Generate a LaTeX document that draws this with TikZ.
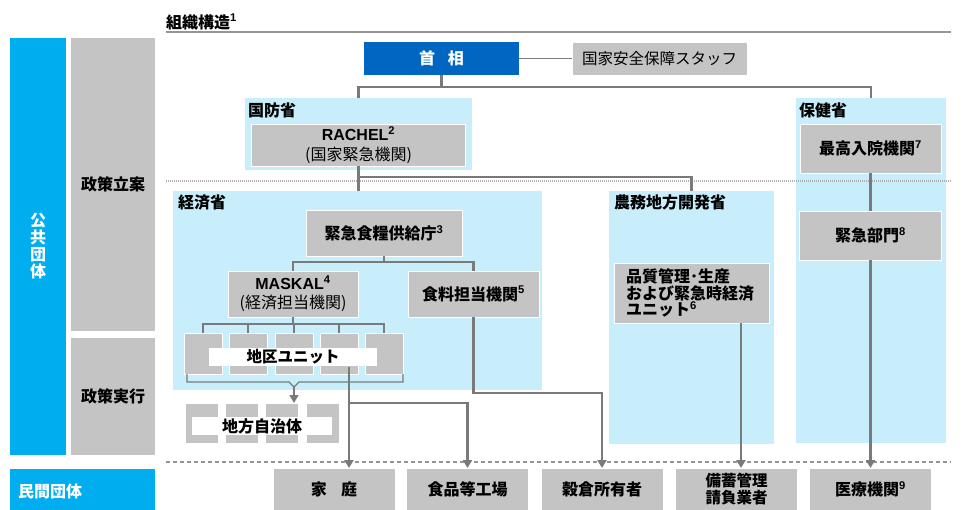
\documentclass[tikz,border=0pt]{standalone}
\usepackage{fontspec}
\setmainfont{Noto Sans CJK JP}
\newfontfamily\lat{Liberation Sans}
\usetikzlibrary{arrows.meta}
\definecolor{cyanb}{RGB}{0,174,239}
\definecolor{pmblue}{RGB}{0,102,194}
\definecolor{lblue}{RGB}{200,238,252}
\definecolor{boxgray}{RGB}{196,196,196}
\definecolor{lngray}{RGB}{122,122,122}
\newcommand\sn[1]{\textsuperscript{\lat\bfseries #1}}
\begin{document}
\begin{tikzpicture}[x=1pt,y=-1pt,
  every node/.style={inner sep=0pt, outer sep=0pt},
  container/.style={fill=lblue, draw=none},
  gbox/.style={fill=boxgray, draw=white, line width=0.8pt, align=center, font=\bfseries\fontsize{16}{20}\selectfont},
  smallbox/.style={fill=boxgray, draw=white, line width=0.6pt},
  whitelbl/.style={fill=white, minimum height=18, font=\bfseries\fontsize{15.5}{18}\selectfont},
  colbox/.style={fill=boxgray, font=\bfseries\fontsize{16}{19}\selectfont},
  conn/.style={draw=lngray, line width=2.1pt},
  thinconn/.style={draw=lngray, line width=1.2pt},
  arr/.style={conn, -{Triangle[width=9pt,length=8pt]}},
  title/.style={anchor=west, font=\bfseries\fontsize{16}{19}\selectfont},
  bottombox/.style={gbox, minimum width=122, minimum height=43},
]
\useasboundingbox (0,0) rectangle (968,509);
\fill[white] (0,0) rectangle (968,509);

% left column
\node[fill=cyanb, minimum width=56, minimum height=417, text=white, align=center,
      font=\bfseries\fontsize{16}{17}\selectfont] (pub) at (38,246.5) {公\\共\\団\\体};
\node[colbox, minimum width=84, minimum height=293] (plan) at (113,184.5) {政策立案};
\node[colbox, minimum width=84, minimum height=117] (exec) at (113,396.5) {政策実行};
\fill[cyanb] (10,469) rectangle (155,512);
\node[anchor=west, text=white, font=\bfseries\fontsize{16}{19}\selectfont] (priv) at (18,491) {民間団体};

% title
\node[title] (ttl) at (166,22) {組織構造\sn{1}};
\draw[lngray!80, line width=1.4pt] (166,32) -- (951,32);

% top
\node[fill=pmblue, minimum width=155, minimum height=33, text=white,
      font=\bfseries\fontsize{16}{19}\selectfont] (pm) at (441.5,58.5) {首\hspace{0.8em}相};
\node[fill=boxgray, draw=white, line width=0.8pt, minimum width=175, minimum height=33,
      font=\fontsize{15.5}{19}\selectfont] (nss) at (659.5,58.5) {国家安全保障スタッフ};

% containers
\node[container, minimum width=227, minimum height=72] (mod) at (358.5,134) {};
\node[container, minimum width=369, minimum height=199] (moe) at (357.5,290.5) {};
\node[container, minimum width=165, minimum height=253] (moa) at (691.5,317.5) {};
\node[container, minimum width=150, minimum height=345] (moh) at (871,270.5) {};
\node[title] (modt) at (248,110) {国防省};
\node[title] (moet) at (178,202) {経済省};
\node[title] (moat) at (614,202) {農務地方開発省};
\node[title] (moht) at (799,110) {保健省};

% separator lines
\draw[lngray!60, line width=1.2pt, dash pattern=on 1pt off 1pt] (166,181) -- (951,181);
\draw[lngray!80, line width=1.1pt, dash pattern=on 4pt off 3pt] (166,462) -- (951,462);

% gray boxes
\node[gbox, minimum width=214, minimum height=42] (rachel) at (358.5,145)
  {{\lat\bfseries RACHEL\sn{2}}\\{\mdseries (国家緊急機関)}};
\node[gbox, minimum width=141, minimum height=49] (hosp) at (870.5,148.5) {最高入院機関\sn{7}};
\node[gbox, minimum width=142, minimum height=49] (emerg) at (870.5,235.5) {緊急部門\sn{8}};
\node[gbox, minimum width=156, minimum height=46] (nesa) at (384,233) {緊急食糧供給庁\sn{3}};
\node[gbox, minimum width=130, minimum height=46, font=\bfseries\fontsize{16}{19}\selectfont] (maskal) at (293,294)
  {{\lat\bfseries MASKAL\sn{4}}\\{\mdseries (経済担当機関)}};
\node[gbox, minimum width=131, minimum height=46] (food) at (473.5,294) {食料担当機関\sn{5}};
\node[gbox, minimum width=155, minimum height=60, text width=131, align=left,
      font=\bfseries\fontsize{16}{16.5}\selectfont] (qual) at (691.5,293)
  {品質管理･生産\\および緊急時経済\\ユニット\sn{6}};

% district units
\foreach \i/\x in {1/203,2/248,3/294,4/339,5/384}
  \node[smallbox, minimum width=38, minimum height=41] (unit\i) at (\x,353.5) {};
\node[whitelbl, minimum width=168] (unitlbl) at (293,357) {地区ユニット};
% municipalities
\foreach \i/\x in {1/201.5,2/241.5,3/282,4/322.5}
  \node[smallbox, minimum width=33, minimum height=40] (mun\i) at (\x,423) {};
\node[whitelbl, minimum width=140, font=\bfseries\fontsize{16}{18}\selectfont] (munlbl) at (262,426) {地方自治体};

% bottom boxes
\node[bottombox] (home) at (334,489.5) {家\hspace{0.9em}庭};
\node[bottombox] (factory) at (467.5,489.5) {食品等工場};
\node[bottombox] (granary) at (602,489.5) {穀倉所有者};
\node[bottombox, font=\bfseries\fontsize{15.5}{17}\selectfont] (stock) at (736.5,489.5) {備蓄管理\\請負業者};
\node[bottombox] (medical) at (870.5,489.5) {医療機関\sn{9}};

% connectors
\draw[conn, line width=1.6pt] (pm.east) -- (nss.west);
\draw[conn] (pm.south) -- ++(0,12);
\draw[conn] (mod.north) -- ++(0,-11) -| (moh.north);
\coordinate (rj) at (358.5,177);
\draw[conn] (rachel.south) -- (rachel.south |- moe.north);
\draw[conn] (rj) -| (moa.north);
\draw[conn] (hosp.south) -- (emerg.north);
\draw[arr] (emerg.south) -- (medical.north);
\draw[conn] (nesa.south) -- ++(0,6);
\draw[conn] (maskal.north) -- ++(0,-9) -| (food.north);
\draw[conn] (maskal.south) -- ++(0,7);
\draw[conn] (unit1.north) -- ++(0,-9) -| (unit5.north);
\foreach \i in {2,3,4} \draw[conn] (unit\i.north) -- ++(0,-9);
% bracket
\coordinate (bk) at (294,387);
\draw[thinconn] (187,374) -- (187,382) -- (289,382) -- (bk) -- (299,382) -- (403,382) -- (403,374);
\draw[thinconn, -{Triangle[width=9pt,length=8pt]}] (bk) -- (bk |- mun3.north);
% from district unit
\coordinate (u4) at (349,367);
\draw[arr] (u4) -- (u4 |- home.north);
\draw[arr] (u4 |- 0,403) -| (factory.north);
\draw[arr] (food.south) -- ++(0,76) -| (granary.north);
\coordinate (q) at (741,323);
\draw[arr] (q) -- (q |- stock.north);
\end{tikzpicture}
\end{document}
